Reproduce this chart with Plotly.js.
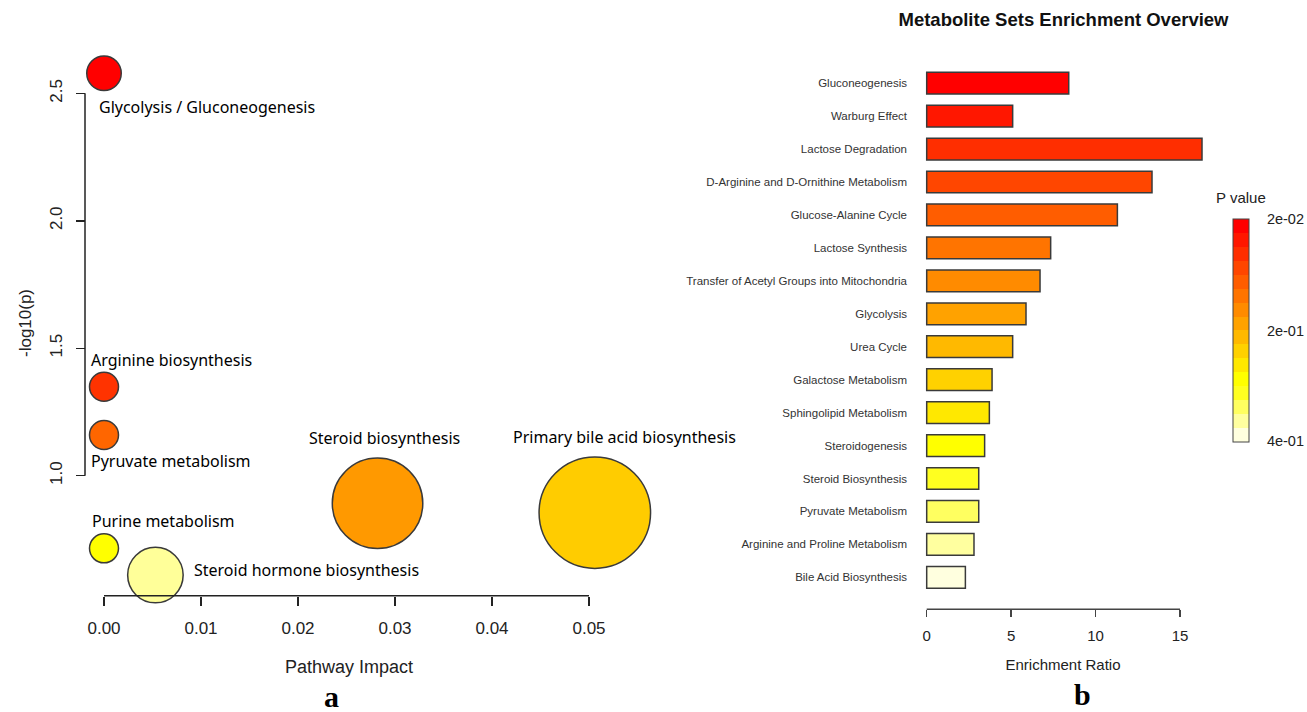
<!DOCTYPE html>
<html><head><meta charset="utf-8">
<script src="https://cdn.plot.ly/plotly-3.0.1.min.js"></script>
<style>html,body{margin:0;padding:0;background:#fff}#chart{width:1307px;height:712px}</style>
</head><body><div id="chart"></div>
<script>
// ---------- Data: panel a (pathway analysis) ----------
const pathways = ["Glycolysis / Gluconeogenesis", "Arginine biosynthesis", "Pyruvate metabolism",
  "Purine metabolism", "Steroid hormone biosynthesis", "Steroid biosynthesis", "Primary bile acid biosynthesis"];
const pathwayImpact = [0.0, 0.0, 0.0, 0.0, 0.0053, 0.0282, 0.0506];
const negLog10P = [2.579, 1.349, 1.160, 0.715, 0.610, 0.892, 0.855];
const impactTicks = [0.00, 0.01, 0.02, 0.03, 0.04, 0.05];
const logPTicks = [1.0, 1.5, 2.0, 2.5];

// ---------- Data: panel b (enrichment overview) ----------
const metaboliteSets = ["Gluconeogenesis", "Warburg Effect", "Lactose Degradation",
  "D-Arginine and D-Ornithine Metabolism", "Glucose-Alanine Cycle", "Lactose Synthesis",
  "Transfer of Acetyl Groups into Mitochondria", "Glycolysis", "Urea Cycle", "Galactose Metabolism",
  "Sphingolipid Metabolism", "Steroidogenesis", "Steroid Biosynthesis", "Pyruvate Metabolism",
  "Arginine and Proline Metabolism", "Bile Acid Biosynthesis"];
const enrichmentRatio = [8.41, 5.09, 16.30, 13.34, 11.29, 7.34, 6.71, 5.88, 5.09, 3.87,
  3.71, 3.43, 3.08, 3.08, 2.80, 2.29];
const ratioTicks = [0, 5, 10, 15];
const pValueTickText = ["2e-02", "2e-01", "4e-01"];

// ---------- Styles ----------
const bubbleDiameter = [34.5, 29, 29, 29, 55.5, 90.5, 111.5];
const bubbleColor = ["#FF0000", "#FF3300", "#FF6600", "#FFFF00", "#FFFF99", "#FF9900", "#FFCC00"];
const labelAnchor = ["left", "left", "left", "left", "left", "center", "center"];
const labelDx = [-7, -15, -15, -14, 37, 7, 30];
const labelDy = [34, -27, 26, -27, -5, -65, -76];
const heatColors = ["#FF0000", "#FF1700", "#FF2E00", "#FF4600", "#FF5D00", "#FF7400", "#FF8B00",
  "#FFA200", "#FFB900", "#FFD100", "#FFE800", "#FFFF00", "#FFFF20", "#FFFF60", "#FFFF9F", "#FFFFDF"];

// ---------- Geometry helpers ----------
const W = 1307, H = 712;
const fx = p => p / W;
const fy = p => 1 - p / H;

// panel a scale
const aX0px = 104, aXppu = 9700, aXdom = [60, 638];
const aY1px = 475.7, aYppu = 254.9, aYdom = [40, 606];
// panel b scale
const bX0px = 926.7, bXppu = 16.89, bXdom = [912, 1214];
const bYdom = [66.7, 593.8];

const n = metaboliteSets.length;
const colorIndex = metaboliteSets.map((_, i) => n - 1 - i);
const stepScale = [];
for (let k = 0; k < n; k++) {
  const c = heatColors[n - 1 - k];
  stepScale.push([k / n, c]);
  stepScale.push([(k + 1) / n, c]);
}

const bubbles = {
  type: "scatter", mode: "markers", xaxis: "x", yaxis: "y",
  x: pathwayImpact, y: negLog10P, text: pathways, hoverinfo: "text",
  cliponaxis: false,
  marker: { size: bubbleDiameter, color: bubbleColor, opacity: 1, line: { color: "#3a3a3a", width: 1.5 } }
};

const bars = {
  type: "bar", orientation: "h", xaxis: "x2", yaxis: "y2",
  x: enrichmentRatio, y: metaboliteSets, width: 0.66,
  marker: {
    color: colorIndex, colorscale: stepScale, cmin: -0.5, cmax: n - 0.5, showscale: true,
    line: { color: "#3a3a3a", width: 1.5 },
    colorbar: {
      x: fx(1232.7), xanchor: "left", xpad: 0,
      y: fy(330), yanchor: "middle", ypad: 0,
      len: 223.4, lenmode: "pixels", thickness: 16, thicknessmode: "pixels",
      outlinewidth: 1, outlinecolor: "#444",
      tickmode: "array", tickvals: [n - 0.51, 7.45, -0.49], ticktext: pValueTickText,
      ticks: "outside", ticklen: 15, tickcolor: "rgba(0,0,0,0)",
      tickfont: { family: "Liberation Sans, Arial", size: 14.5, color: "#222" }
    }
  },
  hoverinfo: "x+y"
};

const labelFont = { family: "Noto Sans, Open Sans, sans-serif", size: 16, color: "#000" };
const annotations = pathways.map((p, i) => ({
  xref: "x", yref: "y", x: pathwayImpact[i], y: negLog10P[i], text: p, showarrow: false,
  xanchor: labelAnchor[i], yanchor: "middle", xshift: labelDx[i], yshift: -labelDy[i], font: labelFont
}));
annotations.push({ xref: "paper", yref: "paper", x: fx(1241), y: fy(197), text: "P value", showarrow: false,
  xanchor: "center", yanchor: "middle", font: { family: "Liberation Sans, Arial", size: 15, color: "#222" } });
annotations.push({ xref: "paper", yref: "paper", x: fx(331), y: fy(696), text: "a", showarrow: false,
  xanchor: "center", yanchor: "middle", font: { family: "Liberation Serif, Times New Roman, serif", size: 30, color: "#000", weight: "bold" } });
annotations.push({ xref: "paper", yref: "paper", x: fx(1082), y: fy(694), text: "b", showarrow: false,
  xanchor: "center", yanchor: "middle", font: { family: "Liberation Serif, Times New Roman, serif", size: 30, color: "#000", weight: "bold" } });

const axisLine = { color: "#222", width: 1.5 };
const shapes = [
  { type: "line", xref: "x", yref: "paper", x0: impactTicks[0], x1: impactTicks[impactTicks.length - 1],
    y0: fy(595.7), y1: fy(595.7), line: axisLine },
  { type: "line", xref: "paper", yref: "y", x0: fx(85), x1: fx(85),
    y0: logPTicks[0], y1: logPTicks[logPTicks.length - 1], line: axisLine },
  { type: "line", xref: "x2", yref: "paper", x0: ratioTicks[0], x1: ratioTicks[ratioTicks.length - 1],
    y0: fy(609.3), y1: fy(609.3), line: { color: "#444", width: 1.5 } }
];

const layout = {
  width: W, height: H, margin: { l: 0, r: 0, t: 0, b: 0 },
  paper_bgcolor: "#fff", plot_bgcolor: "rgba(0,0,0,0)", showlegend: false,
  title: { text: "Metabolite Sets Enrichment Overview", x: fx(1063.5), xanchor: "center", xref: "paper",
    y: fy(20), yanchor: "middle", yref: "paper",
    font: { family: "Liberation Sans, Arial", size: 18.5, color: "#111", weight: "bold" } },
  xaxis: {
    domain: [fx(aXdom[0]), fx(aXdom[1])],
    range: [(aXdom[0] - aX0px) / aXppu, (aXdom[1] - aX0px) / aXppu],
    anchor: "free", position: fy(595.7), side: "bottom",
    showline: false, showgrid: false, zeroline: false,
    tickmode: "array", tickvals: impactTicks, tickformat: ".2f",
    ticks: "outside", ticklen: 9, tickwidth: 1.5, tickcolor: "#222", ticklabelstandoff: 8,
    tickfont: { family: "Liberation Sans, Arial", size: 17, color: "#222" },
    title: { text: "Pathway Impact", standoff: 23, font: { family: "Liberation Sans, Arial", size: 18, color: "#222" } }
  },
  yaxis: {
    domain: [fy(aYdom[1]), fy(aYdom[0])],
    range: [1 - (aYdom[1] - aY1px) / aYppu, 1 + (aY1px - aYdom[0]) / aYppu],
    anchor: "free", position: fx(85), side: "left",
    showline: false, showgrid: false, zeroline: false,
    tickmode: "array", tickvals: logPTicks, tickformat: ".1f", tickangle: -90,
    ticks: "outside", ticklen: 9, tickwidth: 1.5, tickcolor: "#222", ticklabelstandoff: 7,
    tickfont: { family: "Liberation Sans, Arial", size: 17, color: "#222" },
    title: { text: "-log10(p)", standoff: 10, font: { family: "Liberation Sans, Arial", size: 17, color: "#222" } }
  },
  xaxis2: {
    domain: [fx(bXdom[0]), fx(bXdom[1])],
    range: [(bXdom[0] - bX0px) / bXppu, (bXdom[1] - bX0px) / bXppu],
    anchor: "free", position: fy(609.3), side: "bottom",
    showline: false, showgrid: false, zeroline: false,
    tickmode: "array", tickvals: ratioTicks,
    ticks: "outside", ticklen: 7, tickwidth: 1.5, tickcolor: "#444", ticklabelstandoff: 6,
    tickfont: { family: "Liberation Sans, Arial", size: 15, color: "#222" },
    title: { text: "Enrichment Ratio", standoff: 16, font: { family: "Liberation Sans, Arial", size: 15, color: "#222" } }
  },
  yaxis2: {
    domain: [fy(bYdom[1]), fy(bYdom[0])],
    anchor: "x2", type: "category", categoryorder: "array", categoryarray: metaboliteSets,
    range: [n - 0.5, -0.5],
    showline: false, showgrid: false, zeroline: false, ticks: "", ticklabelstandoff: 4,
    tickfont: { family: "Liberation Sans, Arial", size: 11.5, color: "#333" }
  },
  shapes: shapes,
  annotations: annotations
};

Plotly.newPlot("chart", [bubbles, bars], layout, { displayModeBar: false, staticPlot: true });
</script></body></html>
